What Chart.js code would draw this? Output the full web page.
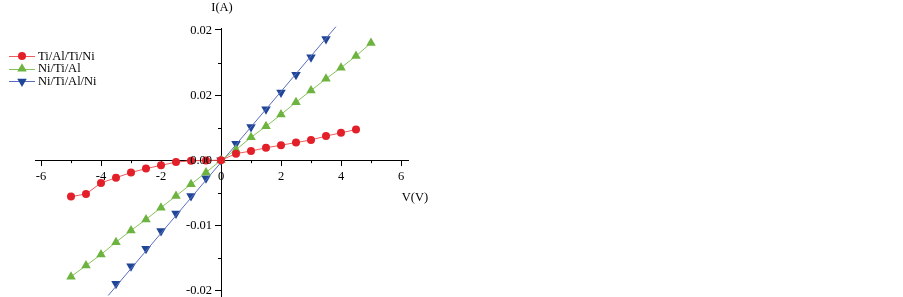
<!DOCTYPE html>
<html lang="en">
  <head>
    <meta charset="UTF-8" />
    <title>I-V curves</title>
    <script src="https://cdn.jsdelivr.net/npm/chart.js@4.4.0/dist/chart.umd.min.js"></script>
    <style>
      html, body { margin: 0; padding: 0; background: #fff; overflow: hidden; }
      canvas { display: block; }
    </style>
  </head>
  <body>
    <!-- a few px taller than the window: Chart.js keeps ~6px below the plot -->
    <canvas id="chart" width="903" height="303"></canvas>

    <script>
      //data
      const seriesNames = ['Ti/Al/Ti/Ni', 'Ni/Ti/Al', 'Ni/Ti/Al/Ni'];

      const voltsRed = [-5, -4.5, -4, -3.5, -3, -2.5, -2, -1.5, -1, -0.5, 0, 0.5, 1, 1.5, 2, 2.5, 3, 3.5, 4, 4.5];
      const currentRed = [-0.0056, -0.0052, -0.0035, -0.0027, -0.0019, -0.0013, -0.0008, -0.0003, -0.0001, -0.00005,
        0, 0.0010, 0.0014, 0.0019, 0.0023, 0.0027, 0.0031, 0.0037, 0.0042, 0.0047];

      const voltsGreen = [-5, -4.5, -4, -3.5, -3, -2.5, -2, -1.5, -1, -0.5, 0, 0.5, 1, 1.5, 2, 2.5, 3, 3.5, 4, 4.5, 5];
      const currentGreen = [-0.0179, -0.0162, -0.0145, -0.0126, -0.0108, -0.0091, -0.0073, -0.0055, -0.0037, -0.0019,
        0, 0.0016, 0.0035, 0.0052, 0.0070, 0.0089, 0.0107, 0.0125, 0.0142, 0.0160, 0.0180];

      const voltsBlue = [-3.5, -3, -2.5, -2, -1.5, -1, -0.5, 0, 0.5, 1, 1.5, 2, 2.5, 3, 3.5];
      const currentBlue = [-0.0190, -0.0163, -0.0136, -0.0109, -0.0082, -0.0055, -0.0028, 0,
        0.0025, 0.0051, 0.0078, 0.0104, 0.0131, 0.0158, 0.0186];

      // straight line drawn through the blue points, ends
      const voltsBlueLine = [-3.76, 3.83];
      const currentBlueLine = [-0.0208, 0.0205];

      const xTickLabels = ['-6', '-4', '-2', '0', '2', '4', '6'];
      const xTickValues = [-6, -4, -2, 0, 2, 4, 6];
      const yTickValues = [-0.02, -0.01, 0, 0.01, 0.02];
      const yTickLabels = ['-0.02', '-0.01', '0.00', '0.02', '0.02'];
      const xMinor = [-5, -3, -1, 1, 3, 5];
      const yMinor = [-0.015, -0.005, 0.005, 0.015];

      const xTitle = 'V(V)';
      const yTitle = 'I(A)';

      const FONT = 'Liberation Serif';
      const toPoints = (xs, ys) => xs.map((x, i) => ({ x: x, y: ys[i] }));

      //config
      const data = {
        datasets: [
          {
            label: seriesNames[0],
            data: toPoints(voltsRed, currentRed),
            borderColor: '#ef5a5a',
            backgroundColor: '#e3202a',
            pointBorderColor: '#e3202a',
            borderWidth: 1,
            pointStyle: 'circle',
            pointRadius: 4,
            pointBorderWidth: 0
          },
          {
            label: seriesNames[1],
            data: toPoints(voltsGreen, currentGreen),
            borderColor: '#86c25a',
            backgroundColor: '#6db33f',
            pointBorderColor: '#6db33f',
            borderWidth: 1,
            pointStyle: 'triangle',
            pointRadius: 5.5,
            pointBorderWidth: 0
          },
          {
            label: 'fit',
            data: toPoints(voltsBlueLine, currentBlueLine),
            borderColor: '#5b6cc0',
            borderWidth: 1,
            pointRadius: 0,
            clip: false
          },
          {
            label: seriesNames[2],
            data: toPoints(voltsBlue, currentBlue),
            borderColor: 'rgba(0,0,0,0)',
            backgroundColor: '#1f4597',
            pointBorderColor: '#1f4597',
            borderWidth: 0,
            pointStyle: 'triangle',
            rotation: 180,
            pointRadius: 5.5,
            pointBorderWidth: 0
          }
        ]
      };

      const axisExtras = {
        id: 'axisExtras',
        afterDraw(chart) {
          const { ctx, scales } = chart;
          const x0 = scales.x.getPixelForValue(0);
          const y0 = scales.y.getPixelForValue(0);
          ctx.save();
          ctx.strokeStyle = '#000';
          ctx.lineWidth = 1;
          ctx.beginPath();
          xMinor.forEach((v) => {
            const px = Math.round(scales.x.getPixelForValue(v)) + 0.5;
            ctx.moveTo(px, y0);
            ctx.lineTo(px, y0 + 3);
          });
          yMinor.forEach((v) => {
            const py = Math.round(scales.y.getPixelForValue(v)) + 0.5;
            ctx.moveTo(x0, py);
            ctx.lineTo(x0 - 3, py);
          });
          ctx.stroke();

          ctx.fillStyle = '#000';
          ctx.font = '12.5px "' + FONT + '"';
          ctx.textBaseline = 'middle';

          // y tick labels, left of the axis
          ctx.textAlign = 'right';
          yTickValues.forEach((v, i) => {
            ctx.fillText(yTickLabels[i], x0 - 9, scales.y.getPixelForValue(v) + 0.5);
          });

          // axis titles
          ctx.textAlign = 'center';
          ctx.fillText(yTitle, x0 + 1, 8);
          ctx.fillText(xTitle, 415, 198);
          ctx.restore();
        }
      };

      const sideLegend = {
        id: 'sideLegend',
        afterDraw(chart) {
          const ctx = chart.ctx;
          const rows = [0, 1, 3];
          ctx.save();
          ctx.font = '12.5px "' + FONT + '"';
          ctx.textAlign = 'left';
          ctx.textBaseline = 'middle';
          rows.forEach((dsIndex, i) => {
            const ds = chart.data.datasets[dsIndex];
            const y = 56 + i * 12.7;
            const lineColor = dsIndex === 3 ? '#5b6cc0' : ds.borderColor;
            ctx.strokeStyle = lineColor;
            ctx.lineWidth = 1;
            ctx.beginPath();
            ctx.moveTo(9, Math.round(y) + 0.5);
            ctx.lineTo(35, Math.round(y) + 0.5);
            ctx.stroke();
            ctx.fillStyle = ds.backgroundColor;
            Chart.helpers.drawPoint(ctx, {
              pointStyle: ds.pointStyle,
              radius: ds.pointRadius,
              rotation: ds.rotation || 0,
              borderWidth: 0
            }, 22, y);
            ctx.fillStyle = '#000';
            ctx.fillText(ds.label, 38, y + 0.5);
          });
          ctx.restore();
        }
      };

      const axisCommon = {
        type: 'linear',
        border: { display: true, color: '#000', width: 1 },
        grid: { drawOnChartArea: false, drawTicks: true, tickLength: 5, color: '#000', tickWidth: 1 }
      };

      const config = {
        type: 'line',
        data: data,
        options: {
          responsive: false,
          animation: false,
          layout: { padding: { left: 35, right: 494.5, top: 28, bottom: 0 } },
          plugins: {
            legend: { display: false },
            tooltip: { enabled: false }
          },
          scales: {
            x: Object.assign({}, axisCommon, {
              position: { y: 0 },
              min: -6.2,
              max: 6.25,
              afterBuildTicks: (scale) => {
                scale.ticks = xTickValues.map((v) => ({ value: v }));
              },
              ticks: {
                padding: 4,
                color: '#000',
                maxRotation: 0,
                autoSkip: false,
                font: { family: FONT, size: 12.5 },
                callback: (value) => xTickLabels[xTickValues.indexOf(Math.round(value))]
              }
            }),
            y: Object.assign({}, axisCommon, {
              position: { x: 0 },
              min: -0.0211,
              max: 0.0203,
              grid: Object.assign({}, axisCommon.grid, { tickLength: 6 }),
              afterBuildTicks: (scale) => {
                scale.ticks = yTickValues.map((v) => ({ value: v }));
              },
              // labels drawn by axisExtras so they sit left of the tick marks
              ticks: { display: false }
            })
          }
        },
        plugins: [axisExtras, sideLegend]
      };

      //init
      const ctx = document.getElementById('chart');
      const chart = new Chart(ctx, config);
    </script>
  </body>
</html>
